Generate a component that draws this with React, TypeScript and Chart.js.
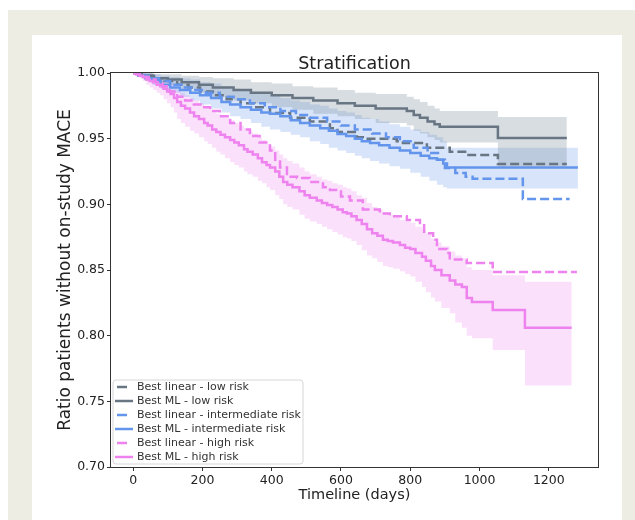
import { useEffect, useRef } from "react";
import { Chart, registerables } from "chart.js";

Chart.register(...registerables);

const chartTitle = "Stratification";
const xAxisLabel = "Timeline (days)";
const yAxisLabel = "Ratio patients without on-study MACE";
const xTickValues = [0, 200, 400, 600, 800, 1000, 1200];
const yTickValues = [0.7, 0.75, 0.8, 0.85, 0.9, 0.95, 1.0];

const legendLabels = [
  "Best linear - low risk",
  "Best ML - low risk",
  "Best linear - intermediate risk",
  "Best ML - intermediate risk",
  "Best linear - high risk",
  "Best ML - high risk",
];

// Best linear - low risk (dashed gray)
const lowLinearDays = [0, 25, 55, 90, 127, 160, 193, 230, 270, 310, 350, 395, 453, 510, 568, 590, 646, 663, 761, 779, 848, 914, 963, 1053, 1252];
const lowLinearVals = [1, 0.998, 0.996, 0.994, 0.991, 0.989, 0.986, 0.983, 0.98, 0.977, 0.974, 0.9695, 0.966, 0.963, 0.958, 0.955, 0.951, 0.95, 0.948, 0.9467, 0.943, 0.94, 0.9376, 0.9307, 0.9307];

// Best ML - low risk (solid gray) with confidence band
const lowMLDays = [0, 25, 60, 100, 140, 190, 230, 290, 340, 400, 460, 520, 590, 640, 700, 790, 810, 828, 850, 870, 885, 1053, 1252];
const lowMLVals = [1, 0.998, 0.996, 0.995, 0.993, 0.991, 0.989, 0.987, 0.985, 0.983, 0.981, 0.979, 0.977, 0.975, 0.973, 0.971, 0.968, 0.966, 0.963, 0.961, 0.959, 0.9505, 0.9505];
const lowMLUpper = [1, 1, 0.999, 0.999, 0.998, 0.997, 0.996, 0.995, 0.993, 0.992, 0.99, 0.989, 0.987, 0.985, 0.984, 0.982, 0.98, 0.978, 0.975, 0.973, 0.971, 0.9665, 0.9665];
const lowMLLower = [1, 0.996, 0.993, 0.991, 0.988, 0.985, 0.982, 0.979, 0.977, 0.974, 0.972, 0.969, 0.967, 0.965, 0.962, 0.96, 0.956, 0.954, 0.951, 0.949, 0.947, 0.929, 0.929];

// Best linear - intermediate risk (dashed blue)
const intLinearDays = [0, 20, 45, 75, 107, 140, 175, 210, 250, 290, 337, 380, 425, 470, 510, 560, 600, 640, 690, 730, 770, 810, 850, 880, 900, 930, 960, 980, 1125, 1260];
const intLinearVals = [1, 0.998, 0.996, 0.994, 0.991, 0.989, 0.987, 0.985, 0.982, 0.98, 0.977, 0.974, 0.971, 0.968, 0.966, 0.963, 0.96, 0.957, 0.954, 0.951, 0.948, 0.943, 0.939, 0.934, 0.9277, 0.9239, 0.921, 0.9195, 0.904, 0.904];

// Best ML - intermediate risk (solid blue) with confidence band
const intMLDays = [0, 15, 35, 55, 80, 107, 135, 165, 193, 225, 255, 280, 310, 340, 370, 395, 425, 455, 482, 510, 540, 565, 590, 615, 640, 660, 684, 710, 740, 770, 800, 830, 855, 877, 895, 906, 1284];
const intMLVals = [1, 0.998, 0.996, 0.994, 0.991, 0.989, 0.987, 0.985, 0.983, 0.981, 0.978, 0.976, 0.974, 0.972, 0.97, 0.969, 0.967, 0.964, 0.962, 0.96, 0.958, 0.956, 0.9535, 0.952, 0.95, 0.948, 0.9467, 0.945, 0.943, 0.941, 0.939, 0.937, 0.935, 0.934, 0.931, 0.928, 0.928];
const intMLUpper = [1, 1, 1, 0.999, 0.998, 0.997, 0.996, 0.995, 0.993, 0.992, 0.99, 0.988, 0.987, 0.985, 0.984, 0.983, 0.981, 0.979, 0.978, 0.976, 0.975, 0.973, 0.971, 0.97, 0.968, 0.966, 0.965, 0.963, 0.961, 0.959, 0.957, 0.955, 0.953, 0.951, 0.948, 0.943, 0.943];
const intMLLower = [1, 0.997, 0.994, 0.991, 0.988, 0.985, 0.982, 0.979, 0.976, 0.973, 0.97, 0.967, 0.965, 0.962, 0.959, 0.957, 0.955, 0.953, 0.951, 0.948, 0.946, 0.943, 0.941, 0.939, 0.937, 0.935, 0.933, 0.931, 0.929, 0.927, 0.924, 0.921, 0.918, 0.915, 0.913, 0.912, 0.912];

// Best linear - high risk (dashed violet)
const highLinearDays = [0, 10, 25, 45, 65, 85, 105, 127, 150, 175, 200, 222, 250, 280, 310, 337, 365, 395, 410, 424, 444, 473, 510, 548, 568, 600, 626, 663, 712, 741, 790, 828, 840, 866, 877, 906, 914, 963, 1038, 1281];
const highLinearVals = [1, 0.999, 0.997, 0.995, 0.993, 0.99, 0.986, 0.982, 0.979, 0.976, 0.974, 0.971, 0.967, 0.962, 0.957, 0.952, 0.947, 0.941, 0.934, 0.928, 0.921, 0.92, 0.917, 0.913, 0.911, 0.906, 0.903, 0.896, 0.893, 0.891, 0.888, 0.884, 0.878, 0.873, 0.866, 0.863, 0.858, 0.8553, 0.8484, 0.8484];

// Best ML - high risk (solid violet) with confidence band
const highMLDays = [
  0, 8, 18, 28, 38, 48, 58, 68, 78, 88,
  98, 108, 118, 127, 138, 150, 164, 176, 190, 205,
  215, 228, 240, 252, 265, 280, 292, 305, 320, 330,
  345, 360, 372, 385, 395, 410, 422, 433, 445, 460,
  480, 495, 510, 530, 545, 560, 575, 590, 605, 617,
  630, 645, 660, 675, 690, 705, 721, 735, 750, 770,
  785, 800, 815, 834, 845, 860, 871, 890, 914, 930,
  949, 963, 978, 1038, 1131, 1266,
];
const highMLVals = [
  1, 0.999, 0.998, 0.997, 0.995, 0.994, 0.993, 0.991, 0.99, 0.988,
  0.986, 0.984, 0.981, 0.978, 0.975, 0.973, 0.97, 0.967, 0.965, 0.962,
  0.96, 0.957, 0.955, 0.953, 0.951, 0.949, 0.947, 0.945, 0.942, 0.94,
  0.938, 0.935, 0.932, 0.93, 0.928, 0.925, 0.921, 0.917, 0.915, 0.913,
  0.91, 0.907, 0.905, 0.903, 0.901, 0.8995, 0.898, 0.896, 0.894, 0.893,
  0.891, 0.888, 0.885, 0.881, 0.878, 0.876, 0.873, 0.872, 0.871, 0.869,
  0.867, 0.866, 0.863, 0.86, 0.857, 0.853, 0.85, 0.846, 0.842, 0.839,
  0.837, 0.8287, 0.8256, 0.8195, 0.806, 0.806,
];
const highMLUpper = [
  1, 1, 1, 1, 0.999, 0.999, 0.998, 0.997, 0.996, 0.995,
  0.994, 0.992, 0.99, 0.987, 0.985, 0.983, 0.981, 0.979, 0.977, 0.975,
  0.973, 0.971, 0.969, 0.967, 0.966, 0.964, 0.962, 0.96, 0.958, 0.956,
  0.954, 0.951, 0.949, 0.946, 0.944, 0.941, 0.938, 0.935, 0.933, 0.931,
  0.928, 0.925, 0.923, 0.921, 0.919, 0.918, 0.916, 0.915, 0.913, 0.912,
  0.91, 0.907, 0.905, 0.901, 0.898, 0.896, 0.894, 0.892, 0.891, 0.888,
  0.887, 0.886, 0.883, 0.881, 0.878, 0.874, 0.871, 0.868, 0.864, 0.861,
  0.859, 0.852, 0.85, 0.846, 0.841, 0.841,
];
const highMLLower = [
  1, 0.998, 0.996, 0.994, 0.991, 0.989, 0.987, 0.985, 0.983, 0.98,
  0.977, 0.974, 0.97, 0.965, 0.962, 0.959, 0.956, 0.954, 0.951, 0.948,
  0.946, 0.943, 0.94, 0.938, 0.935, 0.932, 0.93, 0.928, 0.925, 0.923,
  0.921, 0.918, 0.916, 0.913, 0.911, 0.907, 0.904, 0.9, 0.898, 0.896,
  0.892, 0.889, 0.887, 0.885, 0.883, 0.881, 0.879, 0.877, 0.875, 0.874,
  0.872, 0.869, 0.865, 0.861, 0.859, 0.856, 0.853, 0.852, 0.851, 0.849,
  0.847, 0.845, 0.841, 0.837, 0.833, 0.829, 0.826, 0.821, 0.817, 0.81,
  0.806, 0.8, 0.798, 0.789, 0.762, 0.762,
];

const GRAY = "#687684";
const BLUE = "#6495ed";
const VIOLET = "#ee82ee";
const GRAY_BAND = "rgba(112,128,144,0.27)";
const BLUE_BAND = "rgba(100,149,237,0.25)";
const VIOLET_BAND = "rgba(238,130,238,0.25)";

const legendColors = [GRAY, GRAY, BLUE, BLUE, VIOLET, VIOLET];
const legendDashed = [true, false, true, false, true, false];

const FONT = "'DejaVu Sans', sans-serif";

function pts(days: number[], vals: number[]) {
  return days.map((d, i) => ({ x: d, y: vals[i] }));
}

function line(label: string, days: number[], vals: number[], color: string, dashed: boolean, order: number) {
  return {
    label,
    data: pts(days, vals),
    borderColor: color,
    backgroundColor: color,
    borderWidth: 2.5,
    borderDash: dashed ? [9, 4] : [],
    stepped: "before",
    pointRadius: 0,
    pointHoverRadius: 0,
    fill: false,
    order,
  };
}

function bandPair(days: number[], upper: number[], lower: number[], color: string) {
  return [
    {
      label: "band-upper",
      data: pts(days, upper),
      borderWidth: 0,
      borderColor: "rgba(0,0,0,0)",
      backgroundColor: color,
      stepped: "before",
      pointRadius: 0,
      fill: "+1",
      order: 10,
    },
    {
      label: "band-lower",
      data: pts(days, lower),
      borderWidth: 0,
      borderColor: "rgba(0,0,0,0)",
      backgroundColor: color,
      stepped: "before",
      pointRadius: 0,
      fill: false,
      order: 10,
    },
  ];
}

const framePlugin = {
  id: "frameAndLegend",
  afterDraw(chart: any) {
    const { ctx, chartArea } = chart;
    const { left, top, right, bottom } = chartArea;
    ctx.save();
    // Frame (spines)
    ctx.strokeStyle = "#333";
    ctx.lineWidth = 1;
    ctx.setLineDash([]);
    ctx.strokeRect(Math.round(left) - 0.5, Math.round(top) - 0.5, Math.round(right - left) + 1, Math.round(bottom - top) + 1);

    // Title centred over the plot area
    ctx.fillStyle = "#222";
    ctx.font = `17.5px ${FONT}`;
    ctx.textAlign = "center";
    ctx.textBaseline = "middle";
    ctx.fillText(chartTitle, (left + right) / 2, top - 9);

    // Legend box (lower left inside the plot)
    const bx = left + 2;
    const by = bottom - 87;
    const bw = 190;
    const bh = 84;
    ctx.beginPath();
    const r = 3;
    ctx.moveTo(bx + r, by);
    ctx.lineTo(bx + bw - r, by);
    ctx.arcTo(bx + bw, by, bx + bw, by + r, r);
    ctx.lineTo(bx + bw, by + bh - r);
    ctx.arcTo(bx + bw, by + bh, bx + bw - r, by + bh, r);
    ctx.lineTo(bx + r, by + bh);
    ctx.arcTo(bx, by + bh, bx, by + bh - r, r);
    ctx.lineTo(bx, by + r);
    ctx.arcTo(bx, by, bx + r, by, r);
    ctx.closePath();
    ctx.fillStyle = "rgba(255,255,255,0.85)";
    ctx.fill();
    ctx.strokeStyle = "#d6d6d6";
    ctx.lineWidth = 1;
    ctx.stroke();

    ctx.font = `11px ${FONT}`;
    ctx.textAlign = "left";
    ctx.textBaseline = "middle";
    legendLabels.forEach((lab, i) => {
      const y = by + 7 + i * 14;
      ctx.strokeStyle = legendColors[i];
      ctx.lineWidth = 2.5;
      ctx.beginPath();
      if (legendDashed[i]) {
        ctx.moveTo(bx + 4, y);
        ctx.lineTo(bx + 14, y);
      } else {
        ctx.moveTo(bx + 2, y);
        ctx.lineTo(bx + 20, y);
      }
      ctx.stroke();
      ctx.fillStyle = "#333";
      ctx.fillText(lab, bx + 24, y + 0.5);
    });
    ctx.restore();
  },
};

export default function App() {
  const canvasRef = useRef<HTMLCanvasElement | null>(null);

  useEffect(() => {
    const canvas = canvasRef.current;
    if (!canvas) return;
    const datasets: any[] = [
      ...bandPair(lowMLDays, lowMLUpper, lowMLLower, GRAY_BAND),
      ...bandPair(intMLDays, intMLUpper, intMLLower, BLUE_BAND),
      ...bandPair(highMLDays, highMLUpper, highMLLower, VIOLET_BAND),
      line(legendLabels[0], lowLinearDays, lowLinearVals, GRAY, true, 6),
      line(legendLabels[1], lowMLDays, lowMLVals, GRAY, false, 5),
      line(legendLabels[2], intLinearDays, intLinearVals, BLUE, true, 4),
      line(legendLabels[3], intMLDays, intMLVals, BLUE, false, 3),
      line(legendLabels[4], highLinearDays, highLinearVals, VIOLET, true, 2),
      line(legendLabels[5], highMLDays, highMLVals, VIOLET, false, 1),
    ];

    const chart = new Chart(canvas, {
      type: "line",
      data: { datasets },
      plugins: [framePlugin],
      options: {
        animation: false,
        responsive: false,
        devicePixelRatio: 1,
        events: [],
        layout: { padding: { top: 38, right: 24, bottom: 0, left: 0 } },
        plugins: {
          legend: { display: false },
          title: { display: false },
          tooltip: { enabled: false },
          filler: { propagate: false },
        },
        scales: {
          x: {
            type: "linear",
            min: -64,
            max: 1342,
            afterFit: (s: any) => {
              s.height = 53;
            },
            afterBuildTicks: (s: any) => {
              s.ticks = xTickValues.map((v) => ({ value: v }));
            },
            ticks: {
              color: "#222",
              font: { family: FONT, size: 12.5 },
              padding: 2,
              maxRotation: 0,
              autoSkip: false,
              callback: (v: any) => String(v),
            },
            grid: { drawOnChartArea: false, drawTicks: true, tickLength: 4, color: "#333" },
            border: { display: false },
            title: {
              display: true,
              text: xAxisLabel,
              color: "#222",
              font: { family: FONT, size: 14.5 },
              padding: { top: 0, bottom: 16 },
            },
          },
          y: {
            type: "linear",
            min: 0.7,
            max: 1.0,
            afterFit: (s: any) => {
              s.width = 79;
            },
            afterBuildTicks: (s: any) => {
              s.ticks = yTickValues.map((v) => ({ value: v }));
            },
            ticks: {
              color: "#222",
              font: { family: FONT, size: 12.5 },
              padding: 2,
              autoSkip: false,
              callback: (v: any) => Number(v).toFixed(2),
            },
            grid: { drawOnChartArea: false, drawTicks: true, tickLength: 4, color: "#333" },
            border: { display: false },
            title: {
              display: true,
              text: yAxisLabel,
              color: "#222",
              font: { family: FONT, size: 17 },
              padding: { top: 23, bottom: 0 },
            },
          },
        },
      } as any,
    } as any);

    return () => {
      chart.destroy();
    };
  }, []);

  return (
    <div
      style={{
        position: "fixed",
        left: 8,
        top: 10,
        right: 0,
        bottom: 0,
        background: "#eeede3",
      }}
    >
      <div
        style={{
          position: "absolute",
          left: 24,
          top: 25,
          width: 590,
          bottom: 0,
          background: "#ffffff",
        }}
      >
        <canvas ref={canvasRef} width={590} height={485} style={{ display: "block" }} />
      </div>
    </div>
  );
}
